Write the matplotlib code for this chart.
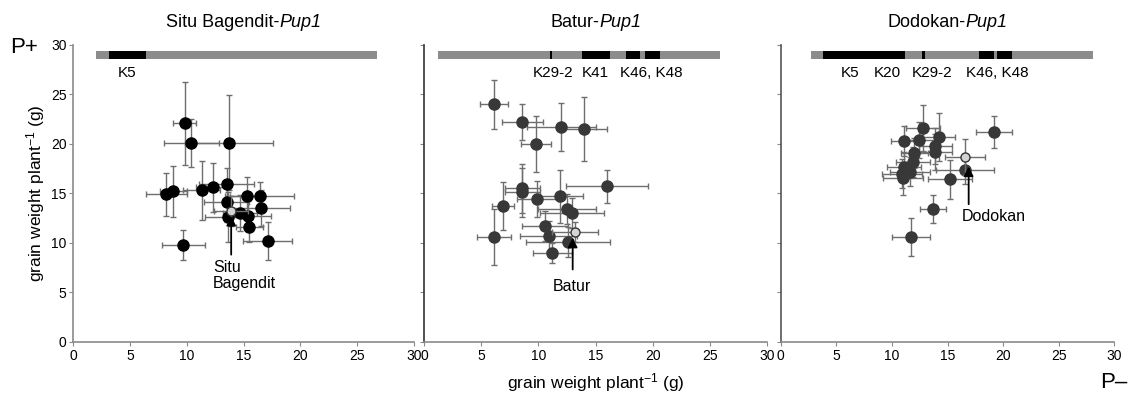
import matplotlib.pyplot as plt
from matplotlib.offsetbox import TextArea, HPacker, AnchoredOffsetbox

plt.rcParams['font.family'] = ['Liberation Sans', 'DejaVu Sans']
plt.rcParams['mathtext.fontset'] = 'custom'
plt.rcParams['mathtext.rm'] = 'Liberation Sans'
plt.rcParams['mathtext.it'] = 'Liberation Sans:italic'

# --- Situ Bagendit-Pup1 ---
sb_x = [9.8, 10.4, 13.7, 8.2, 8.8, 11.3, 12.3, 13.5, 13.5, 13.6, 14.7, 15.3, 15.4, 15.5, 16.4, 16.5, 17.1, 9.7]
sb_y = [22.1, 20.1, 20.1, 14.9, 15.2, 15.3, 15.6, 15.9, 14.1, 12.6, 13.0, 14.7, 12.7, 11.6, 14.7, 13.5, 10.2, 9.8]
sb_xerr = [1.0, 2.4, 3.9, 1.8, 1.2, 1.6, 1.5, 2.4, 2.0, 2.0, 1.5, 1.5, 2.0, 1.2, 3.0, 2.6, 2.2, 1.9]
sb_yerr = [4.2, 2.4, 4.8, 2.2, 2.6, 3.0, 2.5, 1.7, 2.0, 2.5, 1.8, 2.0, 1.5, 1.5, 1.4, 1.8, 1.9, 1.5]
sb_parent = [13.9, 13.2, 1.5, 1.5]
sb_chrom = [2.0, 26.7]
sb_blocks = [(3.1, 6.4)]
sb_markers = ['K5']
sb_marker_x = [4.7]

# --- Batur-Pup1 ---
bt_x = [6.1, 8.6, 9.8, 12.0, 14.0, 16.0, 8.6, 8.6, 6.9, 6.1, 9.9, 11.9, 12.5, 12.9, 10.6, 10.9, 11.2, 12.6]
bt_y = [24.0, 22.2, 20.0, 21.7, 21.5, 15.7, 15.5, 15.1, 13.7, 10.6, 14.4, 14.7, 13.4, 13.0, 11.7, 10.7, 9.0, 10.1]
bt_xerr = [1.2, 1.8, 1.3, 3.0, 2.0, 3.6, 1.5, 1.5, 1.0, 1.5, 1.8, 2.0, 2.5, 2.8, 2.0, 2.5, 1.7, 3.7]
bt_yerr = [2.5, 1.8, 2.8, 2.4, 3.2, 1.7, 2.5, 2.5, 2.4, 2.8, 1.8, 2.7, 1.5, 1.5, 1.5, 1.5, 1.0, 1.5]
bt_parent = [13.2, 11.1, 2.0, 1.0]
bt_chrom = [1.25, 25.9]
bt_blocks = [(11.0, 11.2), (13.8, 16.3), (17.65, 18.9), (19.3, 20.6)]
bt_markers = ['K29-2', 'K41', 'K46, K48']
bt_marker_x = [11.3, 15.0, 19.9]

# --- Dodokan-Pup1 ---
dk_x = [19.2, 12.8, 11.1, 12.4, 14.2, 13.9, 13.9, 12.0, 11.9, 11.1, 10.9, 11.6, 11.0, 16.6, 15.2, 13.7, 11.7]
dk_y = [21.2, 21.6, 20.3, 20.4, 20.7, 19.8, 19.2, 19.1, 18.2, 17.7, 17.0, 17.2, 16.5, 17.4, 16.4, 13.4, 10.6]
dk_xerr = [1.6, 1.5, 1.2, 1.5, 1.5, 1.5, 1.5, 1.2, 1.5, 1.5, 1.8, 1.8, 1.8, 2.6, 2.0, 1.2, 1.7]
dk_yerr = [1.6, 2.3, 1.5, 1.8, 2.4, 1.8, 1.8, 1.5, 1.5, 1.5, 1.5, 1.5, 1.7, 1.5, 2.0, 1.4, 1.9]
dk_parent = [16.6, 18.7, 1.8, 1.8]
dk_chrom = [2.7, 28.05]
dk_blocks = [(3.8, 11.2), (12.7, 12.95), (17.85, 19.2), (19.45, 20.8)]
dk_markers = ['K5', 'K20', 'K29-2', 'K46, K48']
dk_marker_x = [6.2, 9.6, 13.6, 19.5]

ticks = [0, 5, 10, 15, 20, 25, 30]
axis_grey = '#8a8a8a'
err_grey = '#6e6e6e'


def draw_panel(ax, title, xs, ys, xerr, yerr, dot_color, parent, chrom, blocks, markers, marker_x):
    ax.set_xlim(0, 30)
    ax.set_ylim(0, 30)
    ax.set_xticks(ticks)
    ax.set_yticks(ticks)
    ax.tick_params(direction='out', length=3, color=axis_grey, labelsize=10, pad=2)
    for side in ['top', 'right']:
        ax.spines[side].set_visible(False)
    for side in ['left', 'bottom']:
        ax.spines[side].set_color(axis_grey)
        ax.spines[side].set_linewidth(1.2)

    # chromosome bar with introgressed blocks
    ax.broken_barh([(chrom[0], chrom[1] - chrom[0])], (28.6, 0.8), facecolors='#8c8c8c')
    ax.broken_barh([(a, b - a) for a, b in blocks], (28.6, 0.8), facecolors='black')
    for name, mx in zip(markers, marker_x):
        ax.text(mx, 27.2, name, ha='center', va='center', fontsize=11)

    ax.errorbar(xs, ys, xerr=xerr, yerr=yerr, fmt='none', ecolor=err_grey,
                elinewidth=1, capsize=2.5, capthick=1, zorder=2)
    ax.plot(xs, ys, 'o', color=dot_color, markersize=8, zorder=3)
    ax.errorbar([parent[0]], [parent[1]], xerr=[parent[2]], yerr=[parent[3]], fmt='o',
                color=err_grey, ecolor=err_grey, elinewidth=1, capsize=2.5,
                markerfacecolor='#d4d4d4', markeredgecolor='#333333', markersize=6.5, zorder=4)

    # title: plain part + italic gene name
    parts = HPacker(children=[TextArea(title + '-', textprops=dict(fontsize=13)),
                              TextArea('Pup1', textprops=dict(fontsize=13, style='italic'))],
                    align='baseline', pad=0, sep=0)
    box = AnchoredOffsetbox(loc='center', child=parts, bbox_to_anchor=(0.5, 1.075),
                            bbox_transform=ax.transAxes, frameon=False, pad=0, borderpad=0)
    ax.add_artist(box)


fig = plt.figure(figsize=(11.32, 3.98), dpi=100)
ax1 = fig.add_axes([0.0648, 0.1415, 0.3009, 0.7455])
ax2 = fig.add_axes([0.3746, 0.1415, 0.3030, 0.7455])
ax3 = fig.add_axes([0.6897, 0.1415, 0.2947, 0.7455])

draw_panel(ax1, 'Situ Bagendit', sb_x, sb_y, sb_xerr, sb_yerr, 'black',
           sb_parent, sb_chrom, sb_blocks, sb_markers, sb_marker_x)
draw_panel(ax2, 'Batur', bt_x, bt_y, bt_xerr, bt_yerr, '#383838',
           bt_parent, bt_chrom, bt_blocks, bt_markers, bt_marker_x)
draw_panel(ax3, 'Dodokan', dk_x, dk_y, dk_xerr, dk_yerr, '#383838',
           dk_parent, dk_chrom, dk_blocks, dk_markers, dk_marker_x)
ax2.set_yticklabels([])
ax3.set_yticklabels([])
ax2.spines['left'].set_color('#333333')
ax3.spines['left'].set_color('#555555')

arrow = dict(arrowstyle='-|>,head_length=0.55,head_width=0.28', color='black', lw=1.3,
             shrinkA=0, shrinkB=0)
ax1.annotate('', xy=(13.9, 12.7), xytext=(13.9, 8.8), arrowprops=arrow, zorder=5)
ax1.text(12.3, 8.3, 'Situ\nBagendit', ha='left', va='top', fontsize=11.5, linespacing=1.15)
ax2.annotate('', xy=(13.0, 10.5), xytext=(13.0, 7.3), arrowprops=arrow, zorder=5)
ax2.text(12.95, 6.3, 'Batur', ha='center', va='top', fontsize=11.5)
ax3.annotate('', xy=(16.9, 17.7), xytext=(16.9, 13.9), arrowprops=arrow, zorder=5)
ax3.text(16.3, 13.4, 'Dodokan', ha='left', va='top', fontsize=11.5)

ax1.set_ylabel(r'grain weight plant$^{\mathrm{-1}}$ (g)', fontsize=12.5, labelpad=3)
fig.text(0.526, 0.04, r'grain weight plant$^{\mathrm{-1}}$ (g)', ha='center', va='center', fontsize=12.5)
fig.text(0.009, 0.88, 'P+', ha='left', va='center', fontsize=16)
fig.text(0.972, 0.04, 'P\u2013', ha='left', va='center', fontsize=16)

fig.savefig('out.png', dpi=100)
